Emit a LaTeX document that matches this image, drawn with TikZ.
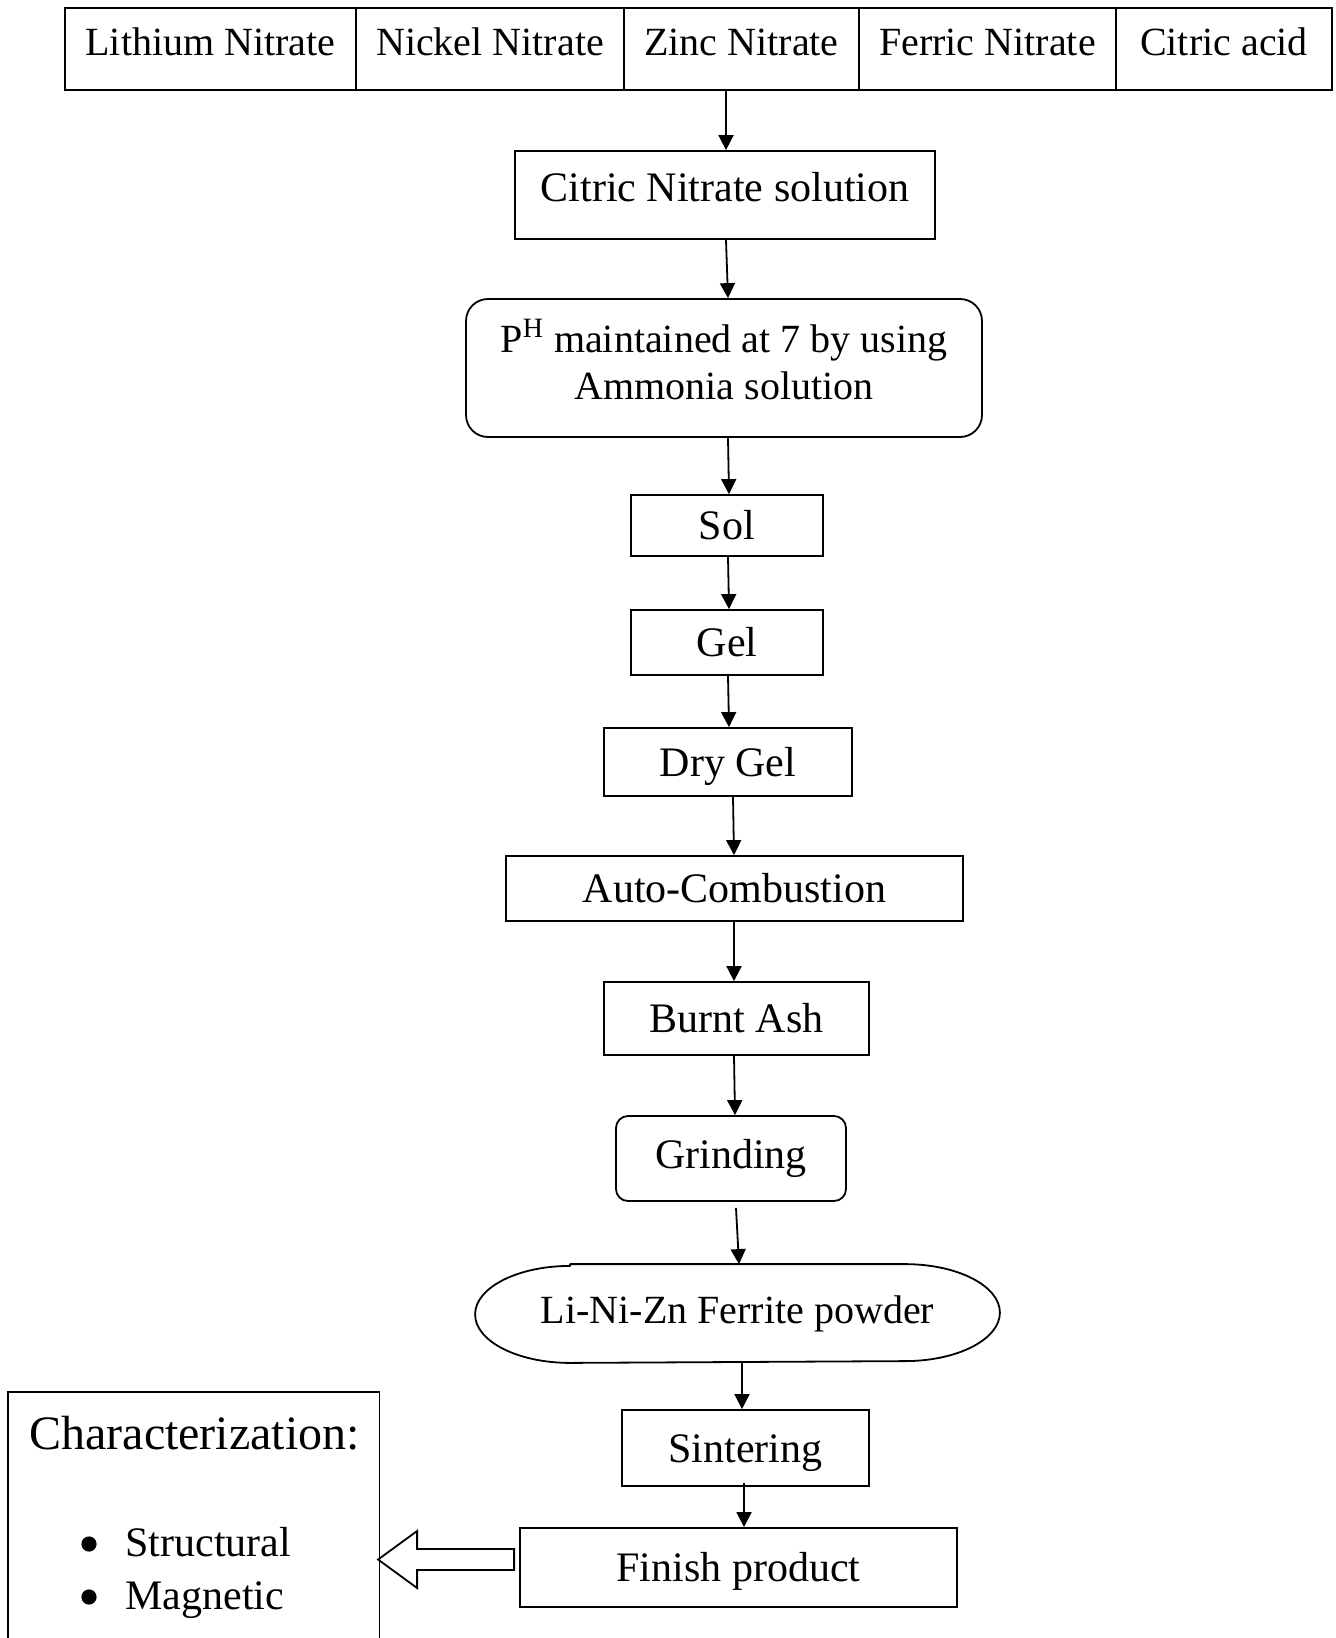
\documentclass[tikz,border=0pt]{standalone}
\usepackage{fontspec}
\setmainfont{Liberation Serif}
\usetikzlibrary{arrows.meta}
\tikzset{
  box/.style={draw, line width=0.9pt, inner sep=0pt, font=\fontsize{21}{23.5}\selectfont, text height=14pt, text depth=0pt},
  cell/.style={box, font=\fontsize{20}{22}\selectfont, minimum height=41pt, text height=13.3pt, text depth=7pt},
  arr/.style={line width=0.9pt, -{Triangle[length=7.5pt,width=7.5pt]}},
  itemtxt/.style={anchor=base west, inner sep=0pt, font=\fontsize{21}{23.5}\selectfont}
}
\begin{document}
\begin{tikzpicture}[x=0.5pt,y=-0.5pt]
\useasboundingbox (0,0) rectangle (1336,1638);
% top row
\node[cell, minimum width=145.5pt] (c1) at (210.5,49) {Lithium Nitrate};
\node[cell, minimum width=134pt] (c2) at (490,49) {Nickel Nitrate};
\node[cell, minimum width=117.5pt] (c3) at (741.5,49) {Zinc Nitrate};
\node[cell, minimum width=128.5pt] (c4) at (987.5,49) {Ferric Nitrate};
\node[cell, minimum width=108pt] (c5) at (1224,49) {Citric acid};
% flow
\node[box, minimum width=210pt, minimum height=44pt, text depth=8pt] (citric) at (725,195) {Citric Nitrate solution};
\node[draw, line width=0.9pt, rounded corners=11pt, minimum width=258pt, minimum height=69pt, inner sep=0pt] (ph) at (724,368) {};
\node[align=center, inner sep=0pt, font=\fontsize{20}{23.5}\selectfont] (phtext) at ([yshift=4.2pt]ph.center) {P\textsuperscript{H} maintained at 7 by using\\Ammonia solution};
\node[box, minimum width=96pt, minimum height=30.5pt] (sol) at (727,525.5) {Sol};
\node[box, minimum width=96pt, minimum height=32.5pt] (gel) at (727,642.5) {Gel};
\node[box, minimum width=124pt, minimum height=34pt] (dry) at (728,762) {Dry Gel};
\node[box, minimum width=228.5pt, minimum height=32.5pt] (auto) at (734.5,888.5) {Auto-Combustion};
\node[box, minimum width=132.5pt, minimum height=36.5pt] (burnt) at (736.5,1018.5) {Burnt Ash};
\node[box, rounded corners=6pt, minimum width=115pt, minimum height=42.5pt, text depth=4pt] (grind) at (731,1158.5) {Grinding};
\node[box, draw=none, font=\fontsize{20}{22}\selectfont, minimum width=261.5pt, minimum height=48.5pt, text height=13.3pt, text depth=3pt] (powder) at (737.5,1313.5) {Li-Ni-Zn Ferrite powder};
\draw[line width=0.9pt, line join=round] ([xshift=47.5pt]powder.north west) -- ([xshift=-47.5pt]powder.north east)
  arc[start angle=90, end angle=-90, x radius=47.5pt, y radius=24.25pt]
  -- ([xshift=47.5pt]powder.south west)
  arc[start angle=270, end angle=90, x radius=47.5pt, y radius=24.25pt] -- cycle;
\node[box, minimum width=123.5pt, minimum height=38pt] (sint) at (745.5,1448) {Sintering};
\node[box, minimum width=218.5pt, minimum height=39.5pt] (finish) at (738.5,1567.5) {Finish product};
% characterization box (bottom edge beyond the page)
\node[minimum width=185.5pt, minimum height=134pt, inner sep=0pt] (charbox) at (193.5,1526) {};
\draw[line width=0.9pt] (charbox.south west) -- (charbox.north west) -- (charbox.north east) -- (charbox.south east);
\node[anchor=base west, inner sep=0pt, font=\fontsize{24}{26}\selectfont] (chartitle) at (29,1449) {Characterization:};
\node[itemtxt] (it1) at (125,1556) {Structural};
\node[itemtxt] (it2) at (125,1609) {Magnetic};
\fill (89,1544) circle (3.8pt);
\fill (89,1597) circle (3.8pt);
% arrows
\draw[arr] ([xshift=-7.75pt]c3.south) -- ([xshift=0.5pt]citric.north);
\draw[arr] ([xshift=0.5pt]citric.south) -- ([xshift=2pt]ph.north);
\draw[arr] ([xshift=2pt]ph.south) -- ([xshift=1pt]sol.north);
\draw[arr] ([xshift=0.5pt]sol.south) -- ([xshift=1pt]gel.north);
\draw[arr] ([xshift=0.5pt]gel.south) -- ([xshift=0.5pt]dry.north);
\draw[arr] ([xshift=2.5pt]dry.south) -- ([xshift=-0.25pt]auto.north);
\draw[arr] ([xshift=-0.25pt]auto.south) -- ([xshift=-1.25pt]burnt.north);
\draw[arr] ([xshift=-1.25pt]burnt.south) -- ([xshift=2pt]grind.north);
\draw[arr] ([xshift=2.5pt,yshift=-3pt]grind.south) -- ([xshift=0.75pt]powder.north);
\draw[arr] ([xshift=2.25pt]powder.south) -- ([xshift=-1.75pt]sint.north);
\draw[arr] ([xshift=-0.75pt,yshift=2pt]sint.south) -- ([xshift=2.75pt]finish.north);
% hollow arrow
\draw[line width=0.9pt, fill=white] ([xshift=-2.5pt,yshift=9.25pt]finish.west) -- ++(-97,0) -- ++(0,-18) -- ++(-39,28.5) -- ++(39,28.5) -- ++(0,-18) -- ++(97,0) -- cycle;
\end{tikzpicture}
\end{document}
